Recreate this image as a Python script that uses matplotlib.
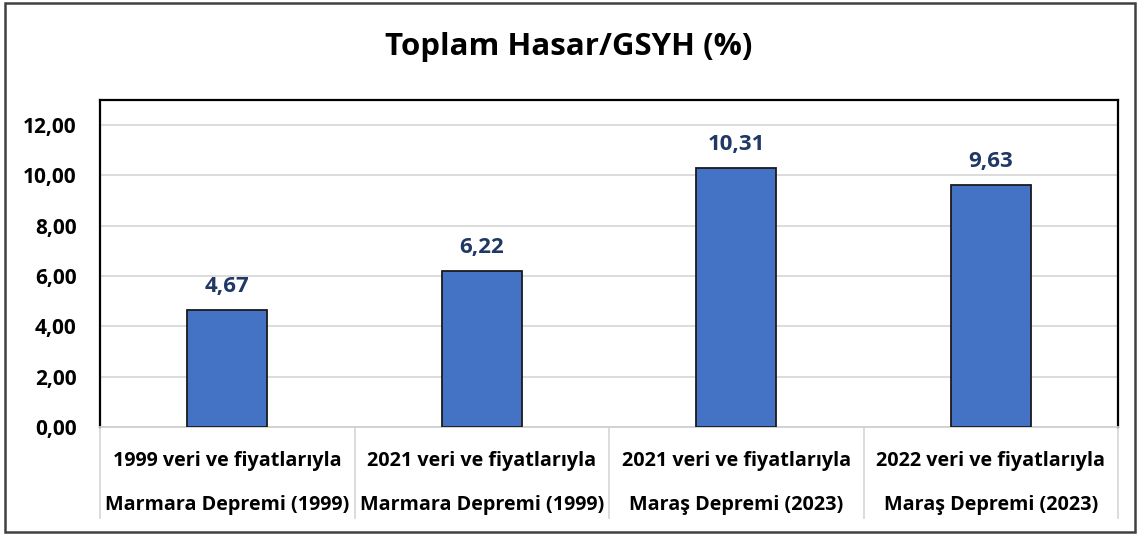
import matplotlib
matplotlib.use("Agg")
import matplotlib.pyplot as plt
from matplotlib.patches import Rectangle

plt.rcParams['font.family'] = ['Open Sans', 'DejaVu Sans']

# Veriler
satir1 = ["1999 veri ve fiyatlarıyla", "2021 veri ve fiyatlarıyla",
          "2021 veri ve fiyatlarıyla", "2022 veri ve fiyatlarıyla"]
satir2 = ["Marmara Depremi (1999)", "Marmara Depremi (1999)",
          "Maraş Depremi (2023)", "Maraş Depremi (2023)"]
degerler = [4.67, 6.22, 10.31, 9.63]
y_ticks = [0, 2, 4, 6, 8, 10, 12]

fig = plt.figure(figsize=(11.38, 5.34), dpi=100)
ax = fig.add_axes([100 / 1138, 107 / 534, 1018 / 1138, 327 / 534])

# Dış çerçeve
fig.patches.append(Rectangle((5 / 1138, 2 / 534), 1130 / 1138, 529 / 534,
                             transform=fig.transFigure, fill=False,
                             edgecolor='#404040', linewidth=1.8))

x = list(range(len(degerler)))
ax.bar(x, degerler, width=0.315, color='#4472C4', edgecolor='#1a1a1a',
       linewidth=1.3, zorder=3)

for xi, v in zip(x, degerler):
    ax.annotate(f"{v:.2f}".replace('.', ','), (xi, v), xytext=(0, 9),
                textcoords='offset points', ha='center', va='bottom',
                fontsize=16, fontweight='bold', color='#1F3864')

ax.set_xlim(-0.5, len(degerler) - 0.5)
ax.set_ylim(0, 13)
ax.set_yticks(y_ticks)
ax.set_yticklabels([f"{t:.2f}".replace('.', ',') for t in y_ticks],
                   fontsize=15, fontweight='bold')
ax.tick_params(axis='y', length=0, pad=17)
ax.set_xticks([])
ax.grid(axis='y', color='#d9d9d9', linewidth=1.3, zorder=0)

for s in ['left', 'top', 'right']:
    ax.spines[s].set_color('black')
    ax.spines[s].set_linewidth(1.6)
ax.spines['bottom'].set_color('#d0d0d0')
ax.spines['bottom'].set_linewidth(1.3)

# Kategori ayırıcı çizgiler ve iki satırlık etiketler
tr = ax.get_xaxis_transform()
for b in [i - 0.5 for i in range(len(degerler) + 1)]:
    ax.plot([b, b], [0, -91 / 327], transform=tr, color='#d9d9d9',
            linewidth=1.3, clip_on=False)
for xi, a, b in zip(x, satir1, satir2):
    ax.text(xi, -34 / 327, a, transform=tr, ha='center', va='center',
            fontsize=14.2, fontweight='bold')
    ax.text(xi, -78 / 327, b, transform=tr, ha='center', va='center',
            fontsize=14.2, fontweight='bold')

fig.text(0.5, 1 - 47 / 534, "Toplam Hasar/GSYH (%)", ha='center',
         va='center', fontsize=22.5, fontweight='bold')

fig.savefig("out.png", dpi=100)
